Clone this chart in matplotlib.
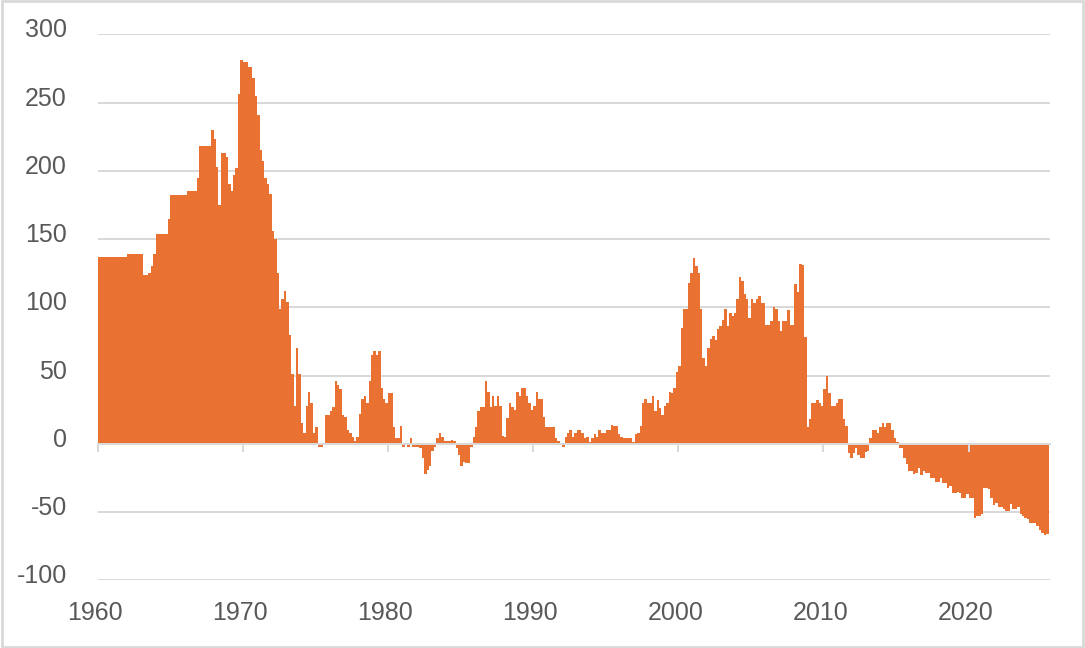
import numpy as np
import matplotlib
matplotlib.use("Agg")
import matplotlib.pyplot as plt
from matplotlib.transforms import ScaledTranslation
from matplotlib.patches import Rectangle

plt.rcParams["font.family"] = ["Liberation Sans Narrow", "Liberation Sans", "DejaVu Sans"]
plt.rcParams["font.stretch"] = "condensed"
plt.rcParams["axes.unicode_minus"] = False

# bimonthly values, one row per year
start_year = 1960
per_year = 6
values = [
    137, 137, 137, 137, 137, 137,   # 1960
    137, 137, 137, 137, 137, 137,   # 1961
    139, 139, 139, 139, 139, 139,   # 1962
    139, 124, 124, 125, 130, 139,   # 1963
    154, 154, 154, 154, 154, 165,   # 1964
    182, 182, 182, 182, 182, 182,   # 1965
    182, 185, 185, 185, 185, 195,   # 1966
    218, 218, 218, 218, 218, 230,   # 1967
    223, 203, 175, 213, 213, 210,   # 1968
    190, 185, 197, 202, 256, 281,   # 1969
    280, 280, 276, 276, 268, 255,   # 1970
    241, 215, 207, 195, 190, 183,   # 1971
    156, 150, 125, 99, 106, 112,    # 1972
    104, 80, 51, 28, 70, 51,        # 1973
    15, 8, 28, 38, 30, 8,           # 1974
    12, -2, -2, 0, 21, 21,          # 1975
    24, 27, 46, 43, 40, 21,         # 1976
    20, 10, 8, 5, 2, 5,             # 1977
    22, 33, 35, 30, 46, 65,         # 1978
    68, 65, 68, 41, 33, 30,         # 1979
    37, 37, 12, 4, 4, 13,           # 1980
    -2, 0, -2, 4, -2, -2,           # 1981
    -2, -3, -10, -22, -19, -16,     # 1982
    -5, -2, 4, 8, 5, 2,             # 1983
    2, 2, 3, 2, -3, -8,             # 1984
    -16, -13, -14, -14, -2, 5,      # 1985
    12, 24, 27, 27, 46, 38,         # 1986
    27, 35, 28, 35, 28, 6,          # 1987
    5, 19, 30, 27, 25, 38,          # 1988
    35, 41, 41, 35, 30, 25,         # 1989
    28, 38, 33, 33, 20, 12,         # 1990
    12, 12, 12, 4, 2, 1,            # 1991
    -2, 5, 8, 10, 5, 8,             # 1992
    10, 10, 8, 4, 5, 1.5,           # 1993
    4, 7, 5, 10, 8, 8,              # 1994
    10, 10, 14, 13, 13, 7,          # 1995
    5, 4, 4, 4, 4, 1.5,             # 1996
    7, 8, 13, 30, 33, 30,           # 1997
    30, 35, 24, 32, 26, 21,         # 1998
    28, 30, 38, 37, 41, 53,         # 1999
    57, 85, 99, 99, 118, 125,       # 2000
    136, 130, 125, 99, 63, 57,      # 2001
    70, 77, 79, 76, 84, 86,         # 2002
    91, 99, 86, 96, 94, 96,         # 2003
    106, 122, 119, 110, 106, 92,    # 2004
    106, 103, 106, 108, 103, 103,   # 2005
    87, 87, 90, 100, 99, 90,        # 2006
    83, 90, 90, 98, 87, 87,         # 2007
    117, 111, 132, 131, 78, 12,     # 2008
    18, 30, 30, 32, 30, 28,         # 2009
    40, 50, 37, 28, 28, 30,         # 2010
    33, 33, 18, 13, -7, -10,        # 2011
    -7, -3, -8, -10, -10, -6,       # 2012
    -5, 4, 10, 10, 8, 12,           # 2013
    15, 12, 15, 15, 10, 4,          # 2014
    1.5, -3, -3, -10, -15, -20,     # 2015
    -20, -22, -21, -18, -23, -20,   # 2016
    -21, -21, -25, -25, -28, -28,   # 2017
    -25, -29, -29, -32, -31, -36,   # 2018
    -36, -35, -36, -40, -40, -37,   # 2019
    -40, -40, -54, -53, -53, -51,   # 2020
    -32, -32, -33, -40, -45, -43,   # 2021
    -46, -46, -48, -49, -49, -44,   # 2022
    -48, -48, -46, -51, -53, -54,   # 2023
    -55, -58, -58, -58, -60, -63,   # 2024
    -65, -67, -66,                  # 2025
]
year_ticks = [1960, 1970, 1980, 1990, 2000, 2010, 2020]
y_ticks = [-100, -50, 0, 50, 100, 150, 200, 250, 300]

orange = "#E97132"
grid = "#D9D9D9"
text_gray = "#595959"

x = start_year + np.arange(len(values)) / per_year

W, H = 1085, 648
fig = plt.figure(figsize=(W / 100, H / 100), dpi=100)
ax = fig.add_axes([97.5 / W, 1 - 580.4 / H, (1050 - 97.5) / W, (580.4 - 34.3) / H])

for yv in y_ticks:
    if yv != 0:
        ax.axhline(yv, color=grid, lw=1.44, zorder=0)

ax.bar(x, values, width=1 / per_year, align="edge", color=orange,
       linewidth=0, antialiased=False, zorder=1)

ax.set_xlim(1960, 2025.6)
ax.set_ylim(-100, 300)

for s in ["top", "right", "left"]:
    ax.spines[s].set_visible(False)
ax.spines["bottom"].set_position(("data", 0))
ax.spines["bottom"].set_color(grid)
ax.spines["bottom"].set_linewidth(1.44)

ax.set_xticks(year_ticks)
ax.set_xticklabels([str(y) for y in year_ticks])
ax.set_yticks(y_ticks)
ax.set_yticklabels([str(y) for y in y_ticks])
ax.tick_params(axis="x", length=5.8, width=1.44, color=grid, pad=107.5,
               labelsize=18, labelcolor=text_gray)
ax.tick_params(axis="y", length=0, pad=22.0, labelsize=18, labelcolor=text_gray)

for lab in ax.get_yticklabels():
    lab.set_transform(lab.get_transform() + ScaledTranslation(0, 0.065, fig.dpi_scale_trans))
for lab in ax.get_xticklabels():
    lab.set_transform(lab.get_transform() + ScaledTranslation(-0.03, 0, fig.dpi_scale_trans))

fig.add_artist(Rectangle((2 / W, 1 / H), 1081 / W, 646 / H, transform=fig.transFigure,
                         fill=False, edgecolor=grid, linewidth=2))

fig.savefig("out.png", dpi=100)
